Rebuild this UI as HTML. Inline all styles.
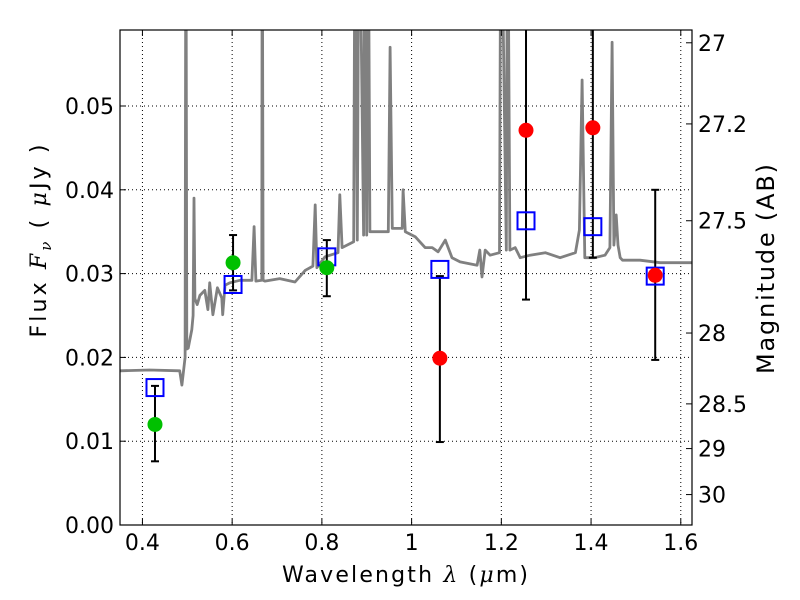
<!DOCTYPE html>
<html><head><meta charset="utf-8"><style>
body{margin:0;background:#fff;}
svg{display:block;font-family:"DejaVu Sans","Liberation Sans",sans-serif;}
</style></head><body>
<svg id="chart" width="800" height="600"></svg>
<script>
const specLam=[0.350,0.416,0.483,0.488,0.495,0.497,0.499,0.502,0.510,0.513,0.515,0.517,0.522,0.528,0.539,0.546,0.550,0.557,0.567,0.577,0.579,0.584,0.595,0.617,0.644,0.649,0.653,0.666,0.667,0.669,0.673,0.706,0.740,0.763,0.780,0.785,0.789,0.807,0.836,0.840,0.845,0.871,0.874,0.879,0.883,0.893,0.896,0.900,0.903,0.907,0.948,0.952,0.957,0.979,0.981,0.986,1.008,1.030,1.046,1.059,1.075,1.090,1.108,1.146,1.152,1.157,1.164,1.175,1.196,1.199,1.211,1.214,1.219,1.231,1.242,1.264,1.298,1.331,1.365,1.374,1.380,1.386,1.408,1.431,1.442,1.447,1.451,1.456,1.460,1.465,1.470,1.509,1.554,1.625];
const specFlux=[0.0184,0.0185,0.0184,0.0167,0.020,0.08,0.021,0.0211,0.0233,0.025,0.039,0.027,0.0263,0.0274,0.0280,0.0257,0.0289,0.0251,0.0283,0.0271,0.0251,0.0286,0.0289,0.0292,0.0292,0.0356,0.0291,0.0292,0.08,0.0292,0.0291,0.0294,0.0290,0.0304,0.0309,0.0382,0.0307,0.0320,0.0325,0.0394,0.0331,0.0338,0.08,0.0340,0.08,0.0346,0.08,0.0346,0.08,0.0350,0.0350,0.0570,0.0354,0.0354,0.0400,0.0350,0.0344,0.0331,0.0331,0.0326,0.0340,0.0319,0.0314,0.0310,0.0328,0.0296,0.0328,0.0322,0.0325,0.08,0.0328,0.08,0.0328,0.0331,0.0319,0.0322,0.0325,0.0319,0.0325,0.0352,0.0531,0.0319,0.0319,0.0322,0.0331,0.0576,0.0334,0.0370,0.0334,0.0319,0.0316,0.0316,0.0313,0.0313];
const greenLam=[0.428,0.602,0.811];
const greenFlux=[0.0120,0.0313,0.0307];
const greenLo=[0.0076,0.0280,0.0273];
const greenHi=[0.0166,0.0346,0.0340];
const redLam=[1.063,1.255,1.404,1.543];
const redFlux=[0.0199,0.0471,0.0474,0.0298];
const redLo=[0.0099,0.0269,0.0319,0.0197];
const redHi=[0.0297,0.08,0.08,0.0400];
const modelLam=[0.428,0.602,0.811,1.063,1.255,1.404,1.543];
const modelFlux=[0.0164,0.0287,0.0320,0.0305,0.0363,0.0356,0.0297];
const xTicks=[0.4,0.6,0.8,1.0,1.2,1.4,1.6];
const xTickLabels=["0.4","0.6","0.8","1","1.2","1.4","1.6"];
const yTicks=[0,0.01,0.02,0.03,0.04,0.05];
const yTickLabels=["0.00","0.01","0.02","0.03","0.04","0.05"];
const magTicks=[27,27.2,27.5,28,28.5,29,30];
const magTickLabels=["27","27.2","27.5","28","28.5","29","30"];

const NS="http://www.w3.org/2000/svg";
const svg=document.getElementById('chart');
const L=120,R=692,T=30,B=525;
const xMin=0.35,xMax=1.625,yMin=0,yMax=0.05907;
const xs=v=>L+(v-xMin)/(xMax-xMin)*(R-L);
const ys=v=>B-(v-yMin)/(yMax-yMin)*(B-T);
const magToFlux=m=>Math.pow(10,(23.9-m)/2.5);
function mk(tag,attrs,parent){const e=document.createElementNS(NS,tag);for(const k in attrs)e.setAttribute(k,attrs[k]);(parent||svg).appendChild(e);return e;}
const defs=mk('defs',{});const cp=mk('clipPath',{id:'clip'},defs);mk('rect',{x:L,y:T,width:R-L,height:B-T},cp);

const grid=mk('g',{});


xTicks.forEach(v=>{mk('line',{x1:xs(v),x2:xs(v),y1:T,y2:B,stroke:'#000','stroke-width':1,'stroke-dasharray':'1,3'},grid);});
yTicks.forEach(v=>{mk('line',{x1:L,x2:R,y1:ys(v),y2:ys(v),stroke:'#000','stroke-width':1,'stroke-dasharray':'1,3'},grid);});

const plot=mk('g',{'clip-path':'url(#clip)'});
let d='';specLam.forEach((l,i)=>{d+=(i?'L':'M')+xs(l).toFixed(1)+','+ys(specFlux[i]).toFixed(1);});
const sp=mk('path',{d:d,fill:'none',stroke:'#808080','stroke-width':2.8,'stroke-linejoin':'round'},plot);



function errbar(x,lo,hi,name){const g=mk('g',{},plot);


mk('line',{x1:xs(x),x2:xs(x),y1:ys(lo),y2:ys(hi),stroke:'#000','stroke-width':2},g);
[lo,hi].forEach(v=>mk('line',{x1:xs(x)-4,x2:xs(x)+4,y1:ys(v),y2:ys(v),stroke:'#000','stroke-width':2},g));}
greenLam.forEach((l,i)=>errbar(l,greenLo[i],greenHi[i],'green-error-bar'));
redLam.forEach((l,i)=>errbar(l,redLo[i],redHi[i],'red-error-bar'));
modelLam.forEach((l,i)=>{const r=mk('rect',{x:xs(l)-8.5,y:ys(modelFlux[i])-8.5,width:17,height:17,fill:'none',stroke:'#0000ff','stroke-width':2},plot);

});
greenLam.forEach((l,i)=>{const c=mk('circle',{cx:xs(l),cy:ys(greenFlux[i]),r:7.5,fill:'#00c000'},plot);

});
redLam.forEach((l,i)=>{const c=mk('circle',{cx:xs(l),cy:ys(redFlux[i]),r:7.5,fill:'#ff0000'},plot);

});

const frame=mk('rect',{x:L,y:T,width:R-L,height:B-T,fill:'none',stroke:'#000','stroke-width':1.2});



xTicks.forEach((v,i)=>{mk('line',{x1:xs(v),x2:xs(v),y1:B,y2:B-6,stroke:'#000'});mk('line',{x1:xs(v),x2:xs(v),y1:T,y2:T+6,stroke:'#000'});
const t=mk('text',{x:xs(v),y:550,'text-anchor':'middle','font-size':22});t.textContent=xTickLabels[i];

});
yTicks.forEach((v,i)=>{mk('line',{x1:L,x2:L+6,y1:ys(v),y2:ys(v),stroke:'#000'});
const t=mk('text',{x:L-6,y:ys(v)+8,'text-anchor':'end','font-size':22});t.textContent=yTickLabels[i];

});
magTicks.forEach((m,i)=>{const y=ys(magToFlux(m));mk('line',{x1:R,x2:R-6,y1:y,y2:y,stroke:'#000'});
const t=mk('text',{x:R+6,y:y+8,'font-size':22});t.textContent=magTickLabels[i];

});

const xl=mk('text',{x:282,y:582,'font-size':22,textLength:246,lengthAdjust:'spacing'});xl.innerHTML='Wavelength  <tspan font-family="DejaVu Serif, serif" font-style="italic">λ</tspan> (<tspan font-family="DejaVu Serif, serif" font-style="italic">μ</tspan>m)';


const yl=mk('text',{x:46,y:241,'text-anchor':'middle','font-size':22,transform:'rotate(-90 46 241)',textLength:193,lengthAdjust:'spacing'});yl.innerHTML='Flux  <tspan font-family="DejaVu Serif, serif" font-style="italic">F</tspan><tspan font-family="DejaVu Serif, serif" font-style="italic" font-size="15" dy="5">ν</tspan><tspan dy="-5">  (  </tspan><tspan font-family="DejaVu Serif, serif" font-style="italic">μ</tspan>Jy )';


const yr=mk('text',{x:774,y:269,'text-anchor':'middle','font-size':24,transform:'rotate(-90 774 269)',textLength:210,lengthAdjust:'spacing'});yr.textContent='Magnitude (AB)';


</script>
</body></html>
